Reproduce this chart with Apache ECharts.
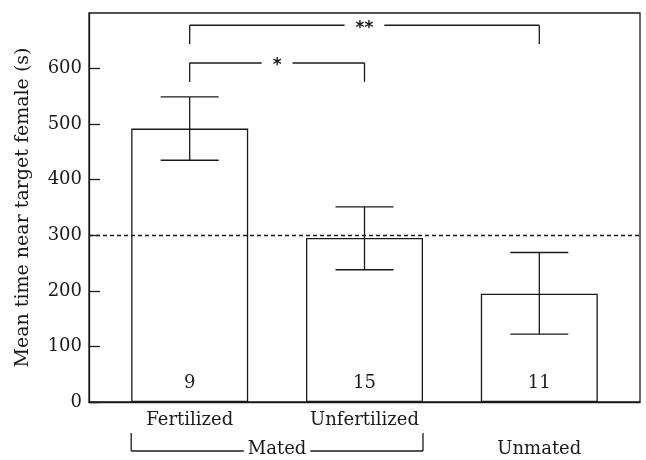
<!DOCTYPE html>
<html>
<head>
<meta charset="utf-8">
<script src="https://cdn.jsdelivr.net/npm/echarts@6/dist/echarts.min.js"></script>
<style>
  html, body { margin: 0; padding: 0; background: #fff; }
  #chart { width: 646px; height: 460px; }
</style>
</head>
<body>
<div id="chart"></div>
<script>
// data
const categories = ['Fertilized', 'Unfertilized', 'Unmated']
const means = [492, 295, 195]
const errUpper = [549, 351, 269]
const errLower = [435, 238, 122]
const sampleSizes = [9, 15, 11]
const chanceLevel = 300

// significance brackets (category index -> category index)
const sigFrom = [0, 0]
const sigTo = [1, 2]
const sigLevel = [610, 678]
const sigMark = ['*', '**']

// grouping row under the axis
const groupNames = ['Mated', 'Unmated']
const groupFrom = [0, 2]
const groupTo = [1, 2]
const axisLabels = ['Fertilized', 'Unfertilized', '']

const yMin = 0
const yMax = 700
const yInterval = 100

const ink = '#1a1a1a'
const serif = 'DejaVu Serif'
const barWidth = 117
const capHalf = 29
const legDrop = 34

const chart = echarts.init(document.getElementById('chart'), null, { renderer: 'canvas' })

const option = {
  animation: false,
  backgroundColor: '#fff',
  grid: {
    left: 89, right: 6, top: 13, bottom: 58,
    show: true, borderColor: ink, borderWidth: 1.3
  },
  xAxis: {
    type: 'value',
    min: 0.424,
    max: 3.576,
    splitLine: { show: false },
    axisTick: { show: false },
    axisLine: { lineStyle: { color: ink, width: 1.3 } },
    axisLabel: {
      customValues: categories.map((c, i) => i + 1),
      formatter: v => axisLabels[Math.round(v) - 1] || '',
      color: ink,
      fontFamily: serif,
      fontSize: 18,
      margin: 9
    }
  },
  yAxis: {
    type: 'value',
    min: yMin,
    max: yMax,
    interval: yInterval,
    name: 'Mean time near target female (s)',
    nameLocation: 'middle',
    nameGap: 56,
    nameTextStyle: { color: ink, fontFamily: serif, fontSize: 19 },
    splitLine: { show: false },
    axisLine: { show: true, lineStyle: { color: ink, width: 1.3 } },
    axisTick: { inside: true, length: 11, lineStyle: { color: ink, width: 1.3 } },
    axisLabel: {
      showMaxLabel: false,
      color: ink,
      fontFamily: serif,
      fontSize: 18,
      margin: 7
    }
  },
  series: [
    {
      name: 'mean',
      type: 'bar',
      barWidth: barWidth,
      data: means.map((m, i) => [i + 1, m]),
      itemStyle: { color: '#fff', borderColor: ink, borderWidth: 1.3 },
      label: {
        show: true,
        position: 'insideBottom',
        distance: 10,
        formatter: p => String(sampleSizes[p.dataIndex]),
        color: ink,
        fontFamily: serif,
        fontSize: 18
      },
      markLine: {
        silent: true,
        symbol: 'none',
        label: { show: false },
        lineStyle: { color: ink, type: [4, 3], width: 1.3 },
        data: [{ yAxis: chanceLevel }]
      },
      z: 2
    },
    {
      // error bars
      type: 'custom',
      z: 3,
      data: means.map((m, i) => [i + 1, errUpper[i], errLower[i]]),
      encode: { x: 0, y: [1, 2] },
      renderItem: (params, api) => {
        const x = api.value(0)
        const top = api.coord([x, api.value(1)])
        const bot = api.coord([x, api.value(2)])
        const style = { stroke: ink, lineWidth: 1.3 }
        return {
          type: 'group',
          children: [
            { type: 'line', shape: { x1: top[0], y1: top[1], x2: bot[0], y2: bot[1] }, style },
            { type: 'line', shape: { x1: top[0] - capHalf, y1: top[1], x2: top[0] + capHalf, y2: top[1] }, style },
            { type: 'line', shape: { x1: bot[0] - capHalf, y1: bot[1], x2: bot[0] + capHalf, y2: bot[1] }, style }
          ]
        }
      }
    },
    {
      // significance brackets
      type: 'custom',
      z: 4,
      data: sigFrom.map((f, i) => [f + 1, sigLevel[i], sigTo[i] + 1, i]),
      encode: { x: 0, y: 1 },
      renderItem: (params, api) => {
        const i = api.value(3)
        const a = api.coord([api.value(0), api.value(1)])
        const b = api.coord([api.value(2), api.value(1)])
        const legA = api.coord([api.value(0), api.value(1) - legDrop])
        const style = { stroke: ink, lineWidth: 1.3 }
        return {
          type: 'group',
          children: [
            { type: 'line', shape: { x1: a[0], y1: a[1], x2: b[0], y2: b[1] }, style },
            { type: 'line', shape: { x1: a[0], y1: a[1], x2: a[0], y2: legA[1] }, style },
            { type: 'line', shape: { x1: b[0], y1: b[1], x2: b[0], y2: legA[1] }, style },
            {
              type: 'text',
              x: (a[0] + b[0]) / 2,
              y: a[1] + 3,
              style: {
                text: sigMark[i],
                fill: ink,
                font: 'bold 17px "DejaVu Sans"',
                align: 'center',
                verticalAlign: 'middle',
                backgroundColor: '#fff',
                padding: [0, 11]
              },
              z2: 10
            }
          ]
        }
      }
    },
    {
      // group row under the x axis
      type: 'custom',
      z: 4,
      clip: false,
      data: groupFrom.map((f, i) => [f + 1, 0, groupTo[i] + 1, i]),
      encode: { x: 0, y: 1 },
      renderItem: (params, api) => {
        const gi = api.value(3)
        const left = api.coord([api.value(0), 0])
        const right = api.coord([api.value(2), 0])
        const y0 = left[1]
        const lx = left[0] - barWidth / 2
        const rx = right[0] + barWidth / 2
        const cx = (lx + rx) / 2
        const style = { stroke: ink, lineWidth: 1.3 }
        const children = []
        const multi = api.value(2) > api.value(0)
        if (multi) {
          children.push(
            { type: 'line', shape: { x1: lx, y1: y0 + 49, x2: rx, y2: y0 + 49 }, style },
            { type: 'line', shape: { x1: lx, y1: y0 + 31, x2: lx, y2: y0 + 49 }, style },
            { type: 'line', shape: { x1: rx, y1: y0 + 31, x2: rx, y2: y0 + 49 }, style }
          )
        }
        children.push({
          type: 'text',
          x: cx,
          y: y0 + 47,
          style: {
            text: groupNames[gi],
            fill: ink,
            font: '18px "DejaVu Serif"',
            align: 'center',
            verticalAlign: 'middle',
            backgroundColor: multi ? '#fff' : null,
            padding: [0, 4]
          },
          z2: 10
        })
        return { type: 'group', children }
      }
    }
  ]
}

chart.setOption(option)
window.addEventListener('resize', () => chart.resize())
</script>
</body>
</html>
